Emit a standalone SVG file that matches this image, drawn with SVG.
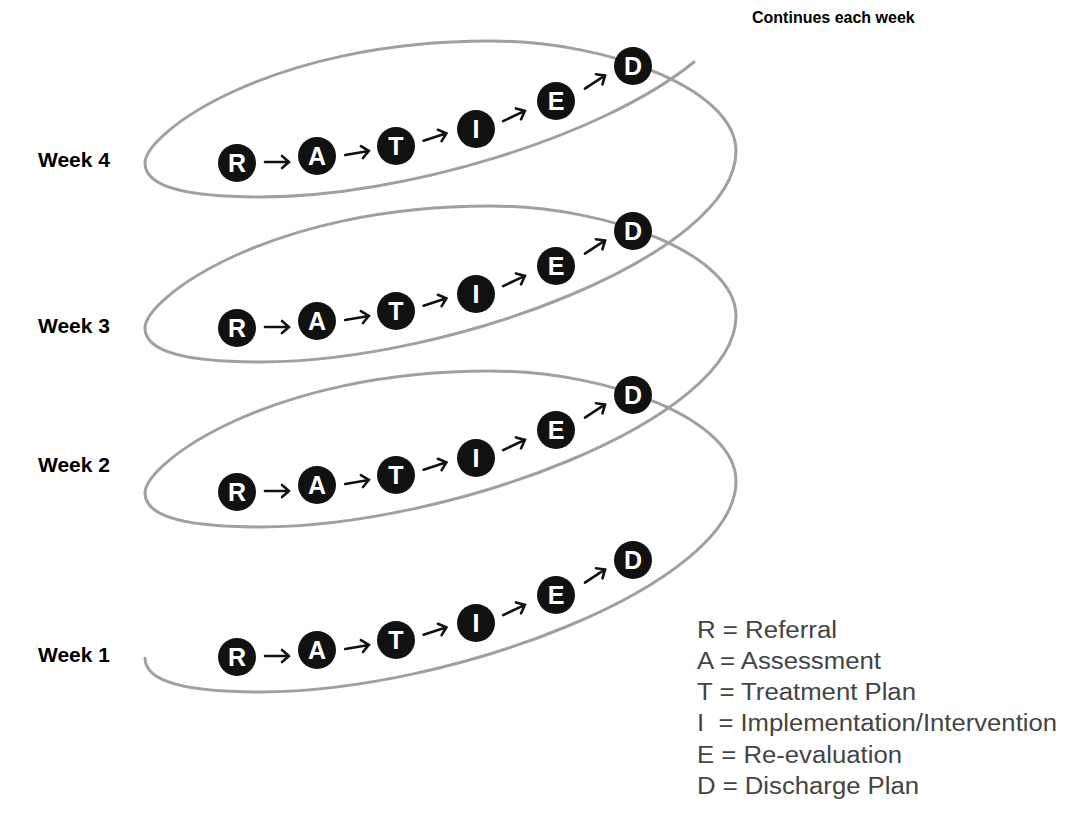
<svg xmlns="http://www.w3.org/2000/svg" width="1066" height="818" viewBox="0 0 1066 818">
<style>
.week{font-family:"Liberation Sans",Arial,sans-serif;font-weight:bold;font-size:21px;fill:#000}
.cont{font-family:"Liberation Sans",Arial,sans-serif;font-weight:bold;font-size:16px;fill:#000}
.leg{font-family:"Liberation Sans",Arial,sans-serif;font-size:23px;fill:#444}
.spiral{fill:none;stroke:#a0a0a0;stroke-width:3;stroke-linecap:round}
.nd circle{fill:#111}
.nd text{font-family:"Liberation Sans",Arial,sans-serif;font-weight:bold;font-size:25px;fill:#fff;text-anchor:middle;dominant-baseline:central}
.arr{fill:none;stroke:#111;stroke-width:2.6;stroke-linecap:round;stroke-linejoin:miter}
</style>
<defs>
<path id="ar" class="arr" d="M-12,0 L12,0 M5,-6 L12,0 L5,6"/>
</defs>
<rect width="1066" height="818" fill="#fff"/>
<g id="spiral">
<path class="spiral" d="M145,658 C145,683 190,692 260,692 C450,692 736,585 736,481 C736,420 610,371 490,371 C270,371 145,463 145,493 C145,518 190,527 260,527 C450,527 736,420 736,316 C736,255 610,206 490,206 C270,206 145,298 145,328 C145,353 190,362 260,362 C450,362 736,255 736,151 C736,90 610,41 490,41 C270,41 145,133 145,163 C145,188 190,197 260,197 C402,197 602,137 694,62"/>
</g>
<g id="labels">
<text class="cont" x="752" y="23">Continues each week</text>
<text class="week" x="38" y="167">Week 4</text>
<text class="week" x="38" y="333">Week 3</text>
<text class="week" x="38" y="472">Week 2</text>
<text class="week" x="38" y="662">Week 1</text>
</g>
<g id="connectors">
<use href="#ar" transform="translate(277,656)"/>
<use href="#ar" transform="translate(357,647) rotate(-10)"/>
<use href="#ar" transform="translate(435,631) rotate(-18)"/>
<use href="#ar" transform="translate(514,610) rotate(-25)"/>
<use href="#ar" transform="translate(595,576) rotate(-33)"/>
<use href="#ar" transform="translate(277,491)"/>
<use href="#ar" transform="translate(357,482) rotate(-10)"/>
<use href="#ar" transform="translate(435,466) rotate(-18)"/>
<use href="#ar" transform="translate(514,445) rotate(-25)"/>
<use href="#ar" transform="translate(595,411) rotate(-33)"/>
<use href="#ar" transform="translate(277,327)"/>
<use href="#ar" transform="translate(357,318) rotate(-10)"/>
<use href="#ar" transform="translate(435,302) rotate(-18)"/>
<use href="#ar" transform="translate(514,281) rotate(-25)"/>
<use href="#ar" transform="translate(595,247) rotate(-33)"/>
<use href="#ar" transform="translate(277,162)"/>
<use href="#ar" transform="translate(357,153) rotate(-10)"/>
<use href="#ar" transform="translate(435,137) rotate(-18)"/>
<use href="#ar" transform="translate(514,116) rotate(-25)"/>
<use href="#ar" transform="translate(595,82) rotate(-33)"/>
</g>
<g id="w1-R" class="nd"><circle cx="237" cy="657" r="19"/><text x="237" y="657">R</text></g>
<g id="w1-A" class="nd"><circle cx="317" cy="650" r="19"/><text x="317" y="650">A</text></g>
<g id="w1-T" class="nd"><circle cx="396" cy="640" r="19"/><text x="396" y="640">T</text></g>
<g id="w1-I" class="nd"><circle cx="476" cy="623" r="19"/><text x="476" y="623">I</text></g>
<g id="w1-E" class="nd"><circle cx="556" cy="595" r="19"/><text x="556" y="595">E</text></g>
<g id="w1-D" class="nd"><circle cx="633" cy="560" r="19"/><text x="633" y="560">D</text></g>
<g id="w2-R" class="nd"><circle cx="237" cy="492" r="19"/><text x="237" y="492">R</text></g>
<g id="w2-A" class="nd"><circle cx="317" cy="485" r="19"/><text x="317" y="485">A</text></g>
<g id="w2-T" class="nd"><circle cx="396" cy="475" r="19"/><text x="396" y="475">T</text></g>
<g id="w2-I" class="nd"><circle cx="476" cy="458" r="19"/><text x="476" y="458">I</text></g>
<g id="w2-E" class="nd"><circle cx="556" cy="430" r="19"/><text x="556" y="430">E</text></g>
<g id="w2-D" class="nd"><circle cx="633" cy="395" r="19"/><text x="633" y="395">D</text></g>
<g id="w3-R" class="nd"><circle cx="237" cy="328" r="19"/><text x="237" y="328">R</text></g>
<g id="w3-A" class="nd"><circle cx="317" cy="321" r="19"/><text x="317" y="321">A</text></g>
<g id="w3-T" class="nd"><circle cx="396" cy="311" r="19"/><text x="396" y="311">T</text></g>
<g id="w3-I" class="nd"><circle cx="476" cy="294" r="19"/><text x="476" y="294">I</text></g>
<g id="w3-E" class="nd"><circle cx="556" cy="266" r="19"/><text x="556" y="266">E</text></g>
<g id="w3-D" class="nd"><circle cx="633" cy="231" r="19"/><text x="633" y="231">D</text></g>
<g id="w4-R" class="nd"><circle cx="237" cy="163" r="19"/><text x="237" y="163">R</text></g>
<g id="w4-A" class="nd"><circle cx="317" cy="156" r="19"/><text x="317" y="156">A</text></g>
<g id="w4-T" class="nd"><circle cx="396" cy="146" r="19"/><text x="396" y="146">T</text></g>
<g id="w4-I" class="nd"><circle cx="476" cy="129" r="19"/><text x="476" y="129">I</text></g>
<g id="w4-E" class="nd"><circle cx="556" cy="101" r="19"/><text x="556" y="101">E</text></g>
<g id="w4-D" class="nd"><circle cx="633" cy="66" r="19"/><text x="633" y="66">D</text></g>
<g id="legend">
<text class="leg" x="697" y="638" textLength="140" lengthAdjust="spacingAndGlyphs">R = Referral</text>
<text class="leg" x="697" y="669" textLength="184" lengthAdjust="spacingAndGlyphs">A = Assessment</text>
<text class="leg" x="697" y="700" textLength="219" lengthAdjust="spacingAndGlyphs">T = Treatment Plan</text>
<text class="leg" x="697" y="731" textLength="360" lengthAdjust="spacingAndGlyphs" xml:space="preserve">I  = Implementation/Intervention</text>
<text class="leg" x="697" y="763" textLength="205" lengthAdjust="spacingAndGlyphs">E = Re-evaluation</text>
<text class="leg" x="697" y="794" textLength="222" lengthAdjust="spacingAndGlyphs">D = Discharge Plan</text>
</g>
</svg>
